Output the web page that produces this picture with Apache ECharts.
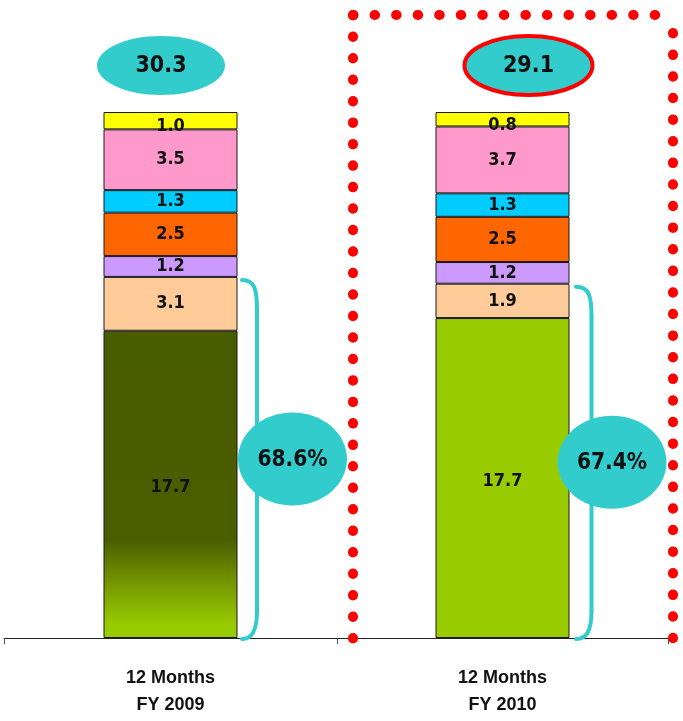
<!DOCTYPE html>
<html><head><meta charset="utf-8">
<script src="https://cdn.jsdelivr.net/npm/echarts@6/dist/echarts.min.js"></script>
<style>html,body{margin:0;padding:0;background:#fff}#c{width:683px;height:721px}</style>
</head><body><div id="c"></div>
<script>
// ---- data ----
const categories = ['12 Months\nFY 2009', '12 Months\nFY 2010'];
const core = [17.7, 17.7];
const peach = [3.1, 1.9];
const lavender = [1.2, 1.2];
const orange = [2.5, 2.5];
const cyan = [1.3, 1.3];
const pink = [3.5, 3.7];
const yellow = [1.0, 0.8];
const totals = [30.3, 29.1];
const shares = [68.6, 67.4];

// ---- styling ----
const FONT = '"DejaVu Sans Condensed", "DejaVu Sans", sans-serif';
const AXFONT = '"Liberation Sans", Arial, sans-serif';
const gradient2009 = {type:'linear', x:0, y:0, x2:0, y2:1, colorStops:[
  {offset:0, color:'#485c00'}, {offset:0.68, color:'#4a5e00'},
  {offset:0.84, color:'#7a9e00'}, {offset:0.96, color:'#99cc00'}, {offset:1, color:'#99cc00'}]};
const segments = [
  {name:'core', values:core, colors:[gradient2009, '#99cc00'], offset:[0,3]},
  {name:'peach', values:peach, colors:['#ffcc99','#ffcc99']},
  {name:'lavender', values:lavender, colors:['#cc99ff','#cc99ff']},
  {name:'orange', values:orange, colors:['#ff6600','#ff6600']},
  {name:'cyan', values:cyan, colors:['#00ccff','#00ccff']},
  {name:'pink', values:pink, colors:['#ff99cc','#ff99cc']},
  {name:'yellow', values:yellow, colors:['#ffff00','#ffff00'], offset:[0,6]}
];

const chart = echarts.init(document.getElementById('c'), null, {renderer:'canvas'});
const grids = [
  {left:4, right:346, top:112, bottom:83},
  {left:337, right:15, top:112, bottom:83}
];
const xAxes = [0,1].map(g => ({
  gridIndex:g, type:'category', data:[categories[g]],
  axisLine:{lineStyle:{color:'#222', width:1}},
  axisTick:{show:true, length:6, lineStyle:{color:'#555'}},
  axisLabel:{color:'#111', fontFamily:AXFONT, fontWeight:'bold', fontSize:18, lineHeight:27, margin:27}
}));
const yAxes = [0,1].map(g => ({gridIndex:g, type:'value', min:0, max:totals[g], show:false, splitLine:{show:false}}));
const series = [];
[0,1].forEach(g => {
  segments.forEach(s => {
    series.push({
      type:'bar', name:s.name, xAxisIndex:g, yAxisIndex:g, stack:'st'+g,
      barWidth:134, data:[s.values[g]],
      itemStyle:{color:s.colors[g], borderColor:'#1a1a1a', borderWidth:1},
      label:{show:true, position:'inside', formatter:p => p.value.toFixed(1),
        color:'#111', fontFamily:FONT, fontWeight:'bold', fontSize:18,
        offset:s.offset || [0,0]},
      emphasis:{disabled:true}
    });
  });
});

chart.setOption({
  animation:false, backgroundColor:'#fff',
  grid:grids, xAxis:xAxes, yAxis:yAxes, series:series
});

// ---- annotations (positions derived from the axes) ----
const totOffsetX = [-9.5, 26];
const pctOffsetX = [122, 109.5];
const brGap = [[4.5, 19.5], [6.5, 22]];
const TEAL = '#33cccc';
const graphics = [];
[0,1].forEach(g => {
  const ref = {xAxisIndex:g, yAxisIndex:g};
  const base = chart.convertToPixel(ref, [0, 0]);
  const top = chart.convertToPixel(ref, [0, totals[g]]);
  const brTop = chart.convertToPixel(ref, [0, core[g] + peach[g]]);
  const cx = base[0];
  const barRight = cx + 67;
  // total ellipse
  const ex = cx + totOffsetX[g], ey = top[1] - 46.5;
  graphics.push({type:'ellipse', shape:{cx:ex, cy:ey, rx:64, ry:29.5}, z:10,
    style:{fill:TEAL, stroke: g === 1 ? '#ff0000' : null, lineWidth: g === 1 ? 4 : 0}});
  graphics.push({type:'text', z:11, style:{x:ex, y:ey+1, text:totals[g].toFixed(1), align:'center', verticalAlign:'middle',
    fill:'#111', fontFamily:FONT, fontWeight:'bold', fontSize:23}});
  // bracket
  const x0 = barRight + brGap[g][0], x1 = barRight + brGap[g][1];
  const yT = brTop[1] + 3, yB = base[1] + 1;
  const bstyle = {stroke:TEAL, lineWidth:4, fill:null, lineCap:'round'};
  graphics.push({type:'bezierCurve', z:10, shape:{x1:x0, y1:yT, cpx1:x1-2, cpy1:yT, cpx2:x1, cpy2:yT+10, x2:x1, y2:yT+30}, style:bstyle});
  graphics.push({type:'line', z:10, shape:{x1:x1, y1:yT+30, x2:x1, y2:yB-28}, style:bstyle});
  graphics.push({type:'bezierCurve', z:10, shape:{x1:x1, y1:yB-28, cpx1:x1, cpy1:yB-8, cpx2:x1-5, cpy2:yB, x2:x0, y2:yB}, style:bstyle});
  // share ellipse
  const px = cx + pctOffsetX[g], py = (brTop[1] + base[1]) / 2 + 1.5;
  graphics.push({type:'ellipse', z:12, shape:{cx:px, cy:py, rx:54.5, ry:46.5}, style:{fill:TEAL}});
  graphics.push({type:'text', z:13, style:{x:px, y:py+1, text:shares[g].toFixed(1)+'%', align:'center', verticalAlign:'middle',
    fill:'#111', fontFamily:FONT, fontWeight:'bold', fontSize:22.5}});
});
// red dotted frame around FY 2010
const dot = {stroke:'#ff0000', lineWidth:10, lineCap:'round', lineDash:[0.5, 21.05], fill:null};
graphics.push({type:'line', z:5, shape:{x1:353, y1:15, x2:660, y2:15}, style:dot});
graphics.push({type:'line', z:5, shape:{x1:353, y1:15, x2:353, y2:640}, style:Object.assign({}, dot, {lineDash:[0.5, 20.98]})});
graphics.push({type:'line', z:5, shape:{x1:673, y1:33, x2:673, y2:640}, style:Object.assign({}, dot, {lineDash:[0.5, 21.1]})});

chart.setOption({graphic:{elements:graphics}});
</script>
</body></html>
